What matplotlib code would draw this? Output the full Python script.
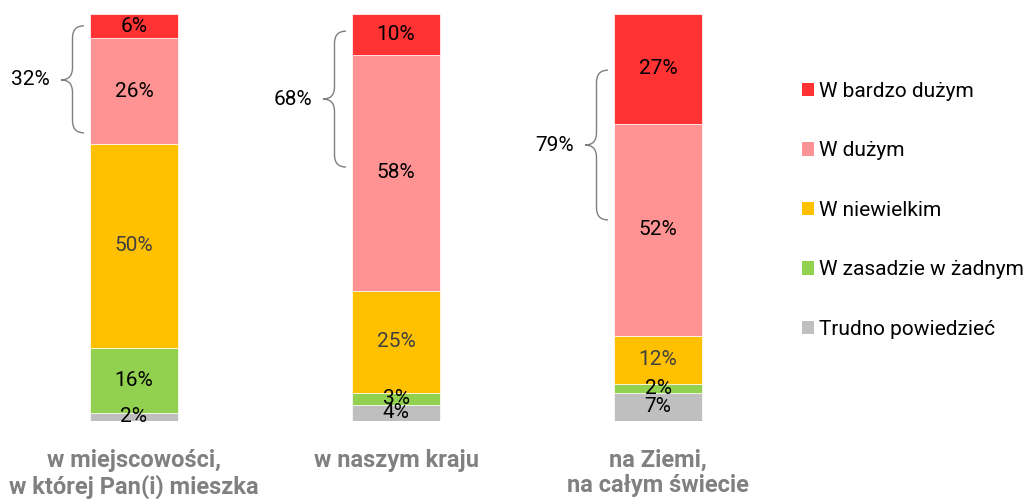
import matplotlib
matplotlib.use("Agg")
import matplotlib.pyplot as plt
from matplotlib.path import Path
from matplotlib.patches import PathPatch, Patch
import numpy as np

plt.rcParams['font.family'] = ['Roboto', 'DejaVu Sans']

categories = ["w miejscowości,\nw której Pan(i) mieszka", "w naszym kraju", "na Ziemi,\nna całym świecie"]
series_names = ["Trudno powiedzieć", "W zasadzie w żadnym", "W niewielkim", "W dużym", "W bardzo dużym"]
trudno = [2, 4, 7]
zadnym = [16, 3, 2]
niewielkim = [50, 25, 12]
duzym = [26, 58, 52]
bardzo = [6, 10, 27]
brace_labels = ["32%", "68%", "79%"]
brace_top = [97.1, 95.8, 86.2]
brace_bottom = [70.8, 62.4, 49.4]
brace_tip = [83.8, 79.1, 67.8]

colors = ["#BFBFBF", "#92D050", "#FFC000", "#FF9393", "#FF3333"]
label_colors = ["black", "black", "#404040", "black", "black"]

fig = plt.figure(figsize=(10.30, 4.99), dpi=100)
ax = fig.add_axes([0, 1 - 421/499, 780/1030, (421 - 14)/499])
ax.set_xlim(-134/262, (780 - 134)/262)
ax.set_ylim(0, 100)
ax.axis('off')

x = np.arange(len(categories))
width = 88/262
data = [trudno, zadnym, niewielkim, duzym, bardzo]
bottom = np.zeros(len(categories))
for vals, col, lc, name in zip(data, colors, label_colors, series_names):
    ax.bar(x, vals, width, bottom=bottom, color=col, edgecolor='white', linewidth=0.5, label=name)
    for xi, v, bt in zip(x, vals, bottom):
        ax.text(xi, bt + v/2, f"{v}%", ha='center', va='center', fontsize=15, color=lc)
    bottom = bottom + np.array(vals)

# braces
end_off = -50/262
tip_off = -73/262
mid_off = (end_off + tip_off)/2
for xi, lab, y1, y2, yt in zip(x, brace_labels, brace_top, brace_bottom, brace_tip):
    xe = xi + end_off
    xt = xi + tip_off
    xm = xi + mid_off
    d = 3.0
    verts = [(xe, y1), (xm, y1), (xm, y1 - d),
             (xm, yt + d),
             (xm, yt), (xt, yt),
             (xm, yt), (xm, yt - d),
             (xm, y2 + d),
             (xm, y2), (xe, y2)]
    codes = [Path.MOVETO, Path.CURVE3, Path.CURVE3,
             Path.LINETO,
             Path.CURVE3, Path.CURVE3,
             Path.CURVE3, Path.CURVE3,
             Path.LINETO,
             Path.CURVE3, Path.CURVE3]
    ax.add_patch(PathPatch(Path(verts, codes), facecolor='none', edgecolor='#7F7F7F', lw=1.0))
    ax.annotate(lab, (xt, yt), xytext=(-8, 0), textcoords='offset points',
                ha='right', va='center', fontsize=15, color='black')

# category labels
for xi, c in zip(x, categories):
    ax.annotate(c, (xi, 0), xytext=(0, -20), textcoords='offset points',
                ha='center', va='top', fontsize=17, fontweight='bold', color='#808080',
                linespacing=1.15, annotation_clip=False)

handles = [Patch(facecolor=c, edgecolor='none') for c in colors][::-1]
labels = series_names[::-1]
fig.legend(handles, labels, loc='upper left', bbox_to_anchor=(802/1030, 1 - 82/499),
           frameon=False, fontsize=15, handlelength=0.58, handleheight=0.6,
           handletextpad=0.25, labelspacing=1.94, borderaxespad=0, borderpad=0)

fig.savefig("out.png", dpi=100)
